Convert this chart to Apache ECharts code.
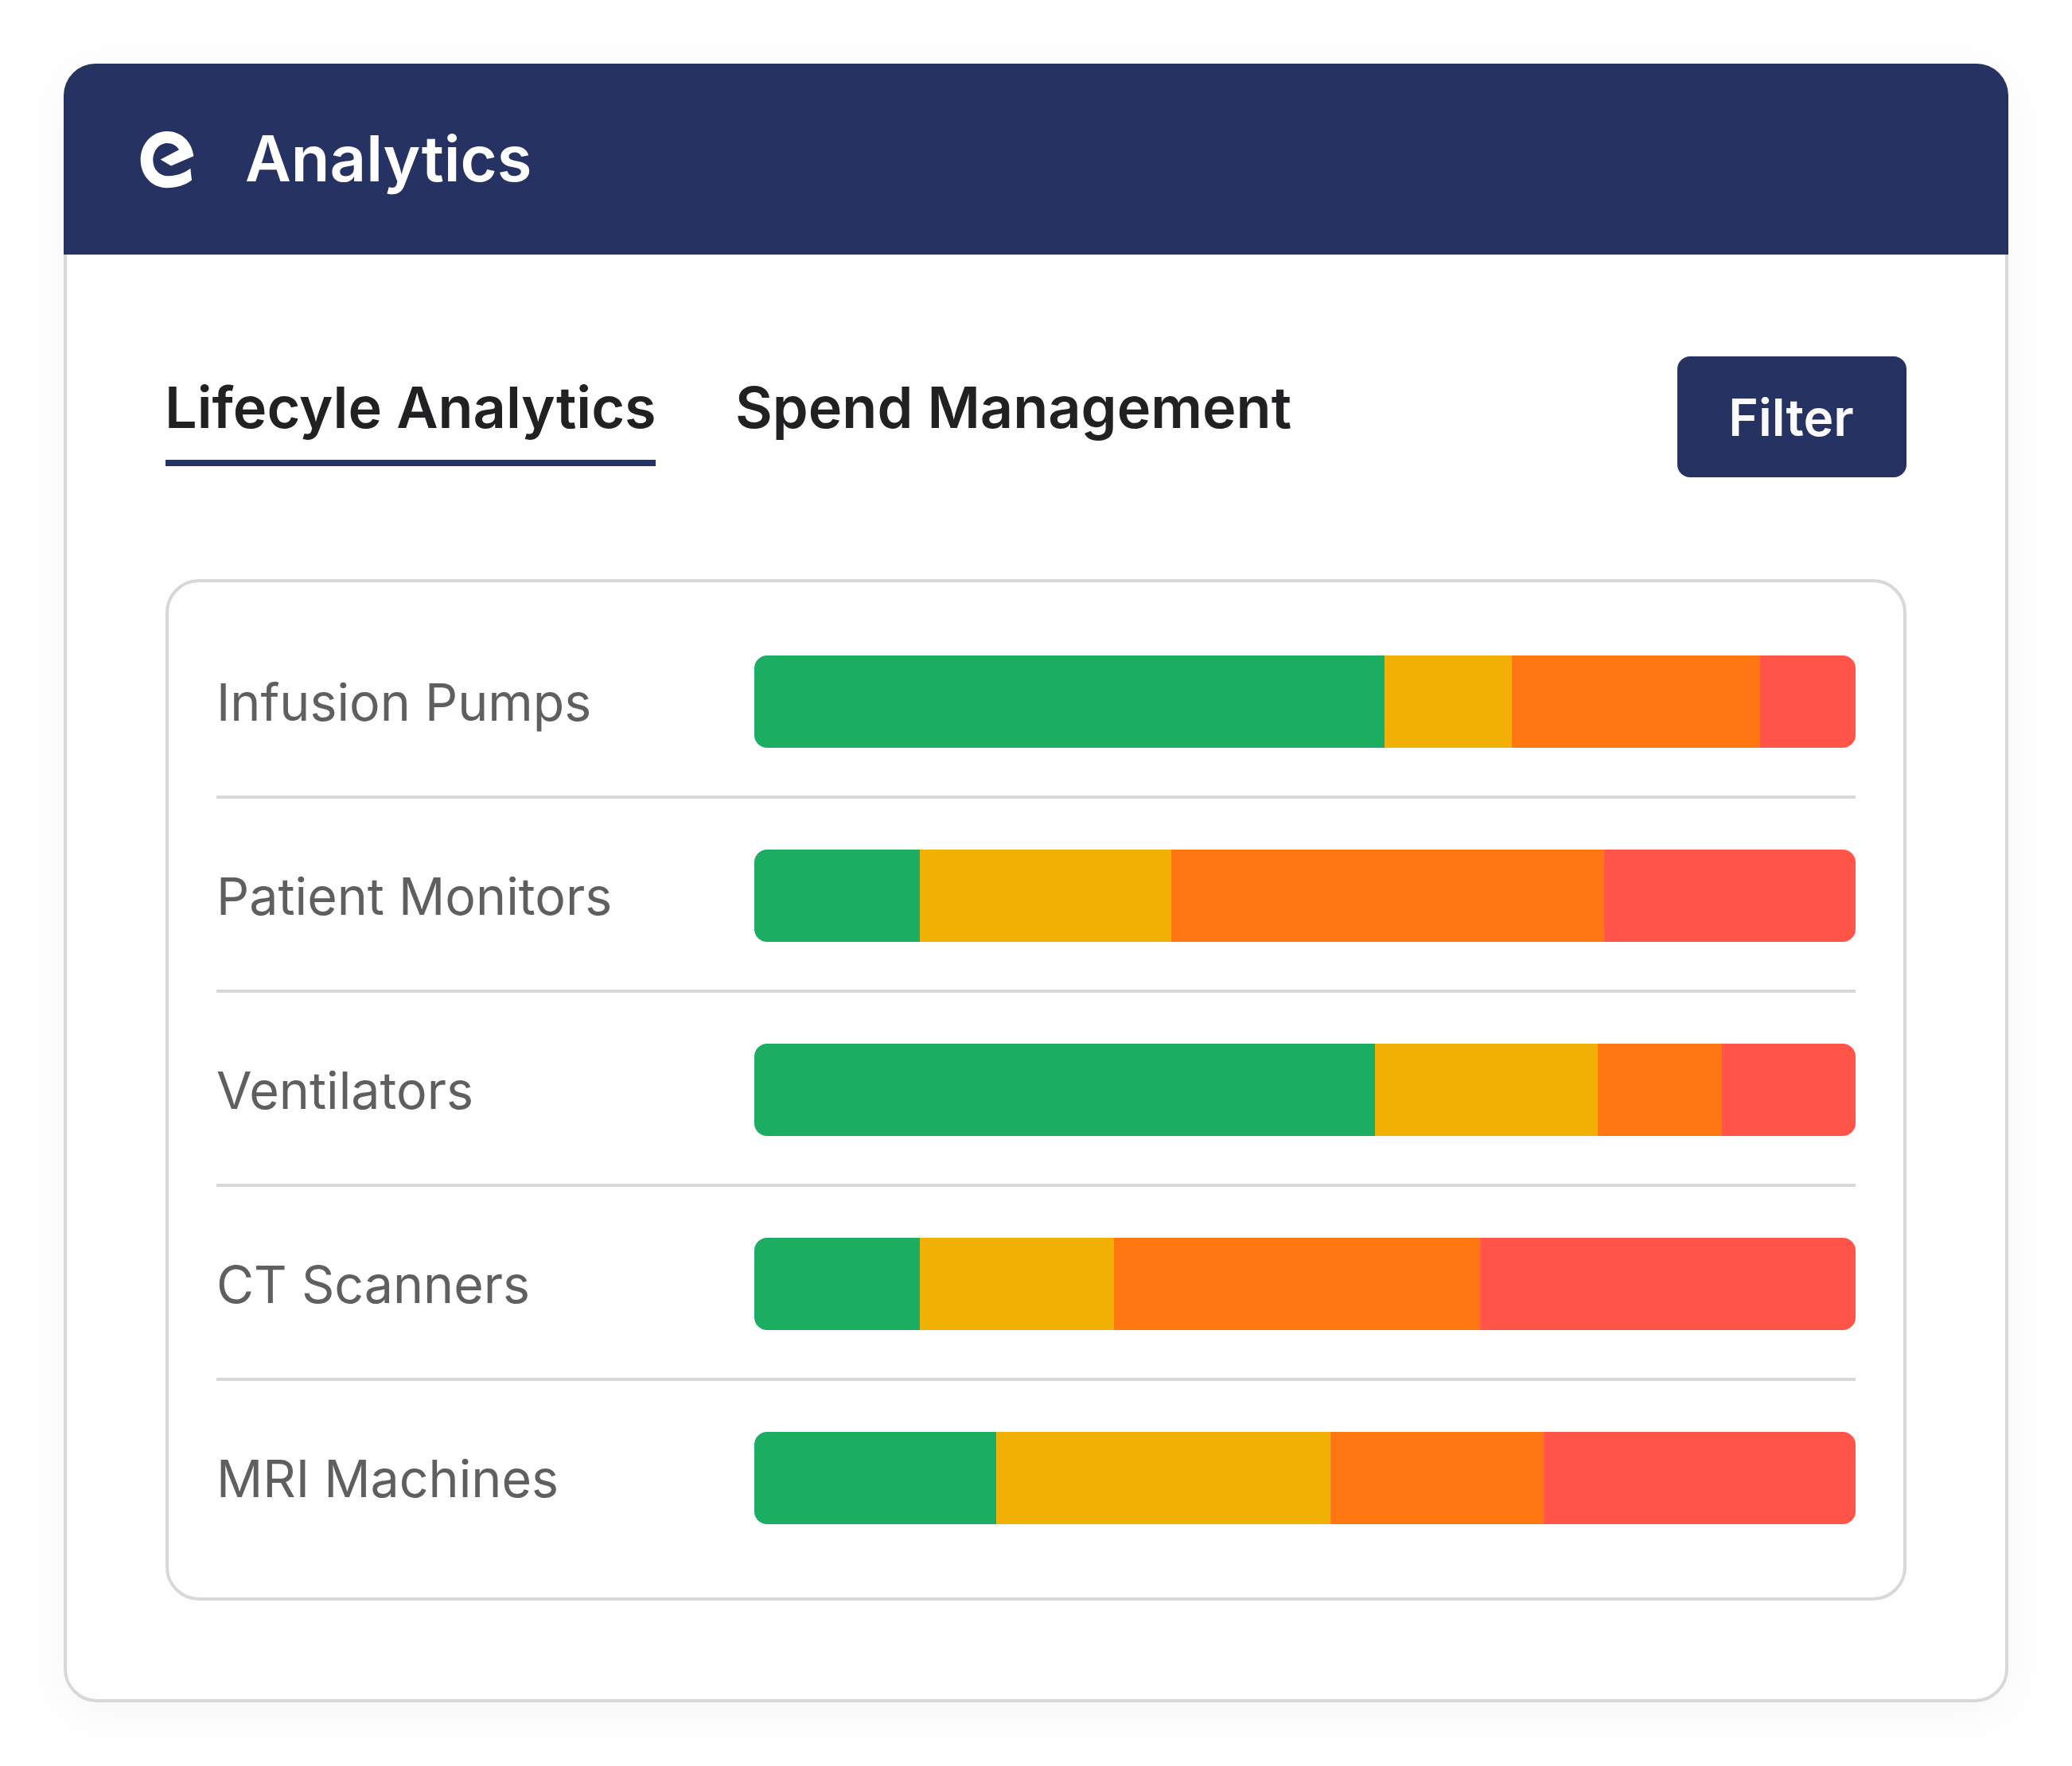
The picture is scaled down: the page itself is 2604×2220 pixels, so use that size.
<!DOCTYPE html>
<html>
<head>
<meta charset="utf-8">
<title>Analytics</title>
<script src="https://cdn.jsdelivr.net/npm/echarts@6/dist/echarts.min.js"></script>
<style>
  html, body { margin: 0; padding: 0; background: #fefefe; }
  #chart { width: 2604px; height: 2220px; }
</style>
</head>
<body>
<div id="chart"></div>
<script>
var categories = ['Infusion Pumps', 'Patient Monitors', 'Ventilators', 'CT Scanners', 'MRI Machines'];
// share of each row, in percent
var greenValues  = [57.23, 15.03, 56.36, 15.03, 21.97];
var yellowValues = [11.56, 22.83, 20.23, 17.63, 30.35];
var orangeValues = [22.54, 39.31, 11.27, 33.24, 19.36];
var redValues    = [8.67, 22.83, 12.14, 34.10, 28.32];

var navy = '#263262';
var font = 'Inter';

// the "e" logo in the header
echarts.graphic.registerShape('eLogo', echarts.graphic.extendPath(
  'M250 135 C243 80 200 45 150 45 C92 45 50 92 50 148 C50 205 92 250 150 250 C185 250 218 240 243 222 L238 180 C215 197 185 207 155 207 C120 207 97 182 97 150 C97 115 120 88 150 88 C170 88 187 98 195 112 L125 147 L165 170 Z'
));

var myChart = echarts.init(document.getElementById('chart'), null, { renderer: 'canvas' });

function barSeries(name, data, color, radius) {
  return {
    name: name,
    type: 'bar',
    stack: 'total',
    data: data,
    barWidth: 116,
    xAxisIndex: 0,
    yAxisIndex: 0,
    silent: true,
    itemStyle: { color: color, borderRadius: radius }
  };
}

function label(text, x, y, size, weight, color, align) {
  return {
    type: 'text',
    z: 5,
    style: {
      x: x, y: y, text: text,
      fill: color,
      font: weight + ' ' + size + 'px ' + font,
      textAlign: align || 'left',
      textVerticalAlign: 'middle'
    }
  };
}

var option = {
  animation: false,
  backgroundColor: '#fefefe',
  grid: [
    { left: 948, width: 1384, top: 760, height: 1220 },
    // wider grid only for the row separators
    { left: 272, width: 2060, top: 758, height: 1220 }
  ],
  xAxis: [
    { type: 'value', min: 0, max: 100, show: false, gridIndex: 0 },
    { type: 'value', min: 0, max: 100, show: false, gridIndex: 1 }
  ],
  yAxis: [
    {
      type: 'category', gridIndex: 0, inverse: true, data: categories,
      axisLine: { show: false }, axisTick: { show: false }, splitLine: { show: false },
      // top + small lineHeight pushes the text 5px below the band centre
      axisLabel: { align: 'left', verticalAlign: 'top', lineHeight: 10, margin: 676, fontFamily: font, fontSize: 64.5, fontWeight: 420, color: '#5f5e60' }
    },
    {
      type: 'category', gridIndex: 1, inverse: true, data: categories,
      axisLine: { show: false }, axisTick: { show: false }, axisLabel: { show: false },
      splitLine: { show: true, showMinLine: false, showMaxLine: false, lineStyle: { color: '#d8d7da', width: 4 } }
    }
  ],
  series: [
    barSeries('Green', greenValues, '#1bad61', [16, 0, 0, 16]),
    barSeries('Yellow', yellowValues, '#f3b004', 0),
    barSeries('Orange', orangeValues, '#ff7711', 0),
    barSeries('Red', redValues, '#ff5447', [0, 16, 16, 0])
  ],
  graphic: [
    // card
    { type: 'rect', z: -10, shape: { x: 82, y: 82, width: 2440, height: 2056, r: 40 },
      style: { fill: '#fefefe', stroke: '#d8d7da', lineWidth: 4, shadowBlur: 60, shadowOffsetY: 12, shadowColor: 'rgba(0,0,0,0.03)' } },
    { type: 'rect', z: -9, shape: { x: 80, y: 80, width: 2444, height: 240, r: [40, 40, 0, 0] }, style: { fill: navy } },
    { type: 'eLogo', z: 5, x: 160, y: 149.4, scaleX: 1 / 3, scaleY: 0.347, style: { fill: '#ffffff' } },
    label('Analytics', 308, 204, 79.5, 580, '#ffffff'),
    // tabs
    label('Lifecyle Analytics', 207, 516, 72, 570, '#212022'),
    label('Spend Management', 924, 516, 72, 570, '#212022'),
    { type: 'rect', z: 5, shape: { x: 208, y: 578, width: 616, height: 8 }, style: { fill: navy } },
    // filter button
    { type: 'rect', z: 4, shape: { x: 2108, y: 448, width: 288, height: 152, r: 16 }, style: { fill: navy } },
    label('Filter', 2251, 529, 64, 570, '#fbfbfd', 'center'),
    // inner panel
    { type: 'rect', z: -8, shape: { x: 210, y: 730, width: 2184, height: 1280, r: 40 },
      style: { fill: '#fefefe', stroke: '#d8d7da', lineWidth: 4 } }
  ]
};

myChart.setOption(option);
</script>
</body>
</html>
